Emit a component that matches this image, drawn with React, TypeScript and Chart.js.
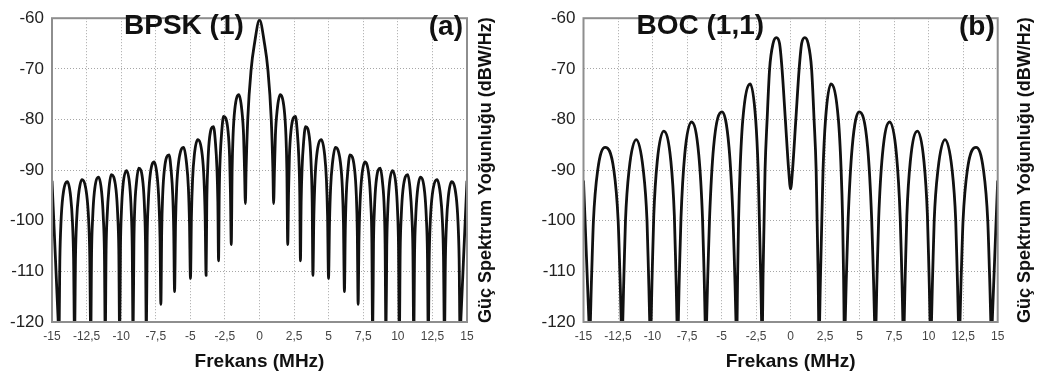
import React, { useEffect, useRef } from 'react';
import { Chart, registerables } from 'chart.js';

Chart.register(...registerables);

const FONT = '"Liberation Sans", Arial, Helvetica, sans-serif';

// Axis ticks
const xTickValues = [-15, -12.5, -10, -7.5, -5, -2.5, 0, 2.5, 5, 7.5, 10, 12.5, 15];
const xTickLabels = ['-15', '-12,5', '-10', '-7,5', '-5', '-2,5', '0', '2,5', '5', '7,5', '10', '12,5', '15'];
const yTickValues = [-120, -110, -100, -90, -80, -70, -60];
const yTickLabels = ['-120', '-110', '-100', '-90', '-80', '-70', '-60'];

const xAxisTitle = 'Frekans (MHz)';
const yAxisTitle = 'Güç Spektrum Yoğunluğu (dBW/Hz)';

// (a) BPSK(1): frequency (MHz) / PSD (dBW/Hz) (one row per lobe: shoulders, peak, null)
const bpskFreq = [
  -15, -14.75, -14.56,
  -14.5, -14.43, -14.35, -14.22, -13.88, -13.65, -13.52, -13.44,
  -13.37, -13.3, -13.22, -13.08, -12.84, -12.49, -12.35, -12.27,
  -12.2, -12.14, -12.06, -11.94, -11.63, -11.41, -11.29, -11.21,
  -11.15, -11.09, -11.01, -10.89, -10.72, -10.37, -10.25, -10.17,
  -10.11, -10.05, -9.98, -9.87, -9.61, -9.38, -9.27, -9.2,
  -9.14, -9.08, -9.02, -8.9, -8.73, -8.42, -8.31, -8.24,
  -8.18, -8.12, -8.04, -7.92, -7.62, -7.39, -7.27, -7.19,
  -7.13, -7.07, -7, -6.88, -6.54, -6.39, -6.27, -6.2,
  -6.14, -6.07, -5.99, -5.85, -5.48, -5.28, -5.14, -5.06,
  -4.99, -4.92, -4.84, -4.71, -4.47, -4.14, -4.01, -3.93,
  -3.86, -3.81, -3.74, -3.64, -3.33, -3.19, -3.08, -3.01,
  -2.96, -2.91, -2.84, -2.73, -2.6, -2.27, -2.16, -2.1,
  -2.04, -1.98, -1.91, -1.79, -1.49, -1.28, -1.15, -1.08,
  -1.02, -0.97, -0.85, -0.6, -0.36,
  0,
  0.36, 0.6, 0.85, 0.97, 1.02,
  1.08, 1.15, 1.28, 1.49, 1.79, 1.91, 1.98, 2.04,
  2.1, 2.16, 2.27, 2.6, 2.73, 2.84, 2.91, 2.96,
  3.01, 3.08, 3.19, 3.33, 3.64, 3.74, 3.81, 3.86,
  3.93, 4.01, 4.14, 4.47, 4.71, 4.84, 4.92, 4.99,
  5.06, 5.14, 5.28, 5.48, 5.85, 5.99, 6.07, 6.14,
  6.2, 6.27, 6.39, 6.54, 6.88, 7, 7.07, 7.13,
  7.19, 7.27, 7.39, 7.62, 7.92, 8.04, 8.12, 8.18,
  8.24, 8.31, 8.42, 8.73, 8.9, 9.02, 9.08, 9.14,
  9.2, 9.27, 9.38, 9.61, 9.87, 9.98, 10.05, 10.11,
  10.17, 10.25, 10.37, 10.72, 10.89, 11.01, 11.09, 11.15,
  11.21, 11.29, 11.41, 11.63, 11.94, 12.06, 12.14, 12.2,
  12.27, 12.35, 12.49, 12.84, 13.08, 13.22, 13.3, 13.37,
  13.44, 13.52, 13.65, 13.88, 14.22, 14.35, 14.43, 14.5,
  14.56, 14.75, 15,
];
const bpskPower = [
  -92.1, -107.5, -119.3,
  -123, -107.3, -100.3, -95.3, -92.3, -95.3, -100.3, -107.3,
  -123, -106.9, -99.9, -94.9, -91.9, -94.9, -99.9, -106.9,
  -123, -106.4, -99.4, -94.4, -91.4, -94.4, -99.4, -106.4,
  -123, -105.9, -98.9, -93.9, -90.9, -93.9, -98.9, -105.9,
  -123, -105.1, -98.1, -93.1, -90.1, -93.1, -98.1, -105.1,
  -123, -104.6, -97.6, -92.6, -89.6, -92.6, -97.6, -104.6,
  -123, -103.4, -96.4, -91.4, -88.4, -91.4, -96.4, -103.4,
  -116.5, -102, -95, -90, -87, -90, -95, -102,
  -114, -100.5, -93.5, -88.5, -85.5, -88.5, -93.5, -100.5,
  -111.4, -99, -92, -87, -84, -87, -92, -99,
  -110.8, -96.4, -89.4, -84.4, -81.4, -84.4, -89.4, -96.4,
  -107.9, -94.4, -87.4, -82.4, -79.4, -82.4, -87.4, -94.4,
  -104.7, -90.1, -83.1, -78.1, -75.1, -78.1, -83.1, -90.1,
  -96.6, -90, -80, -70, -65,
  -60.35,
  -65, -70, -80, -90, -96.6,
  -90.1, -83.1, -78.1, -75.1, -78.1, -83.1, -90.1, -104.7,
  -94.4, -87.4, -82.4, -79.4, -82.4, -87.4, -94.4, -107.9,
  -96.4, -89.4, -84.4, -81.4, -84.4, -89.4, -96.4, -110.8,
  -99, -92, -87, -84, -87, -92, -99, -111.4,
  -100.5, -93.5, -88.5, -85.5, -88.5, -93.5, -100.5, -114,
  -102, -95, -90, -87, -90, -95, -102, -116.5,
  -103.4, -96.4, -91.4, -88.4, -91.4, -96.4, -103.4, -123,
  -104.6, -97.6, -92.6, -89.6, -92.6, -97.6, -104.6, -123,
  -105.1, -98.1, -93.1, -90.1, -93.1, -98.1, -105.1, -123,
  -105.9, -98.9, -93.9, -90.9, -93.9, -98.9, -105.9, -123,
  -106.4, -99.4, -94.4, -91.4, -94.4, -99.4, -106.4, -123,
  -106.9, -99.9, -94.9, -91.9, -94.9, -99.9, -106.9, -123,
  -107.3, -100.3, -95.3, -92.3, -95.3, -100.3, -107.3, -123,
  -119.3, -107.5, -92.1,
];

// (b) BOC(1,1): frequency (MHz) / PSD (dBW/Hz)
const bocFreq = [
  -15, -14.78, -14.62,
  -14.56, -14.42, -14.28, -13.97, -13.43, -12.8, -12.49, -12.35,
  -12.21, -12.08, -11.96, -11.7, -11.18, -10.67, -10.4, -10.28,
  -10.15, -10.03, -9.91, -9.66, -9.19, -8.67, -8.42, -8.3,
  -8.18, -8.06, -7.94, -7.67, -7.18, -6.65, -6.38, -6.26,
  -6.14, -6, -5.87, -5.58, -4.97, -4.46, -4.17, -4.04,
  -3.9, -3.84, -3.77, -3.66, -3.46, -2.92, -2.53, -2.35, -2.26, -2.16,
  -2.06, -1.99, -1.92, -1.85, -1.7, -1.52, -1.27, -1.03, -0.8, -0.62, -0.38, -0.14,
  0,
  0.14, 0.38, 0.62, 0.8, 1.03, 1.27, 1.52, 1.7, 1.85, 1.92, 1.99, 2.06,
  2.16, 2.26, 2.35, 2.53, 2.92, 3.46, 3.66, 3.77, 3.84, 3.9,
  4.04, 4.17, 4.46, 4.97, 5.58, 5.87, 6, 6.14,
  6.26, 6.38, 6.65, 7.18, 7.67, 7.94, 8.06, 8.18,
  8.3, 8.42, 8.67, 9.19, 9.66, 9.91, 10.03, 10.15,
  10.28, 10.4, 10.67, 11.18, 11.7, 11.96, 12.08, 12.21,
  12.35, 12.49, 12.8, 13.43, 13.97, 14.28, 14.42, 14.56,
  14.62, 14.78, 15,
];
const bocPower = [
  -92.05, -107.5, -118.8,
  -123, -111.5, -100, -90, -85.5, -90, -100, -111.5,
  -123, -111.5, -100, -90, -84, -90, -100, -111.5,
  -123, -111, -99, -88.3, -82.3, -88.3, -99, -111,
  -123, -111, -99.5, -87, -80.5, -87, -99.5, -111,
  -123, -111, -99.5, -85.5, -78.5, -85.5, -99.5, -111,
  -123, -111.5, -100, -90, -80, -73, -80, -90, -100, -111.5,
  -123, -110, -100, -90, -80, -70, -65, -63.85, -65, -70, -80, -90,
  -93.7,
  -90, -80, -70, -65, -63.85, -65, -70, -80, -90, -100, -110, -123,
  -111.5, -100, -90, -80, -73, -80, -90, -100, -111.5, -123,
  -111, -99.5, -85.5, -78.5, -85.5, -99.5, -111, -123,
  -111, -99.5, -87, -80.5, -87, -99.5, -111, -123,
  -111, -99, -88.3, -82.3, -88.3, -99, -111, -123,
  -111.5, -100, -90, -84, -90, -100, -111.5, -123,
  -111.5, -100, -90, -85.5, -90, -100, -111.5, -123,
  -118.8, -107.5, -92.05,
];

type PanelProps = {
  freq: number[];
  power: number[];
  title: string;
  tag: string;
  left: number;
  padLeft: number;
  padRight: number;
  titleDx: number;
  tagDx: number;
  yTitleDx: number;
};

function Panel(p: PanelProps) {
  const ref = useRef<HTMLCanvasElement>(null);
  useEffect(() => {
    const canvas = ref.current;
    if (!canvas) return;
    const overlay = {
      id: 'overlay',
      afterDraw(chart: any) {
        const { ctx, chartArea } = chart;
        const { left, right, top, bottom } = chartArea;
        ctx.save();
        ctx.setLineDash([]);
        ctx.strokeStyle = '#8e8e8e';
        ctx.lineWidth = 2;
        ctx.strokeRect(left, top, right - left, bottom - top);
        ctx.fillStyle = '#111';
        ctx.font = `bold 28px ${FONT}`;
        ctx.textBaseline = 'alphabetic';
        ctx.textAlign = 'left';
        ctx.fillText(p.title, left + p.titleDx, 34);
        ctx.textAlign = 'right';
        ctx.fillText(p.tag, right - p.tagDx, 35);
        ctx.translate(right + p.yTitleDx, (top + bottom) / 2);
        ctx.rotate(-Math.PI / 2);
        ctx.font = `bold 18px ${FONT}`;
        ctx.textAlign = 'center';
        ctx.textBaseline = 'middle';
        ctx.fillText(yAxisTitle, 0, 0);
        ctx.restore();
      },
    };
    const chart = new Chart(canvas, {
      type: 'line',
      data: {
        datasets: [
          {
            data: p.freq.map((x, i) => ({ x, y: p.power[i] })),
            borderColor: '#111',
            borderWidth: 2.8,
            pointRadius: 0,
            cubicInterpolationMode: 'monotone',
            fill: false,
            borderJoinStyle: 'round',
          } as any,
        ],
      },
      options: {
        animation: false,
        responsive: false,
        maintainAspectRatio: false,
        events: [],
        layout: { padding: { left: p.padLeft, right: p.padRight, top: 10, bottom: 0 } },
        plugins: { legend: { display: false }, tooltip: { enabled: false }, title: { display: false } },
        scales: {
          x: {
            type: 'linear',
            min: -15,
            max: 15,
            afterBuildTicks: (s: any) => {
              s.ticks = xTickValues.map((v) => ({ value: v }));
            },
            afterFit: (s: any) => {
              s.height = 56;
            },
            ticks: {
              autoSkip: false,
              maxRotation: 0,
              minRotation: 0,
              padding: 7,
              color: '#444',
              font: { family: FONT, size: 12 },
              callback: (v: any) => xTickLabels[xTickValues.indexOf(Number(v))] ?? '',
            },
            grid: { color: '#a6a6a6', lineWidth: 1, drawTicks: false },
            border: { display: false, dash: [1, 2] },
            title: {
              display: true,
              text: xAxisTitle,
              color: '#111',
              font: { family: FONT, size: 19, weight: 'bold' },
              padding: { top: 0, bottom: 5 },
            },
          },
          y: {
            type: 'linear',
            min: -120,
            max: -60,
            afterBuildTicks: (s: any) => {
              s.ticks = yTickValues.map((v) => ({ value: v }));
            },
            afterFit: (s: any) => {
              s.width = 52;
            },
            ticks: {
              padding: 8,
              color: '#222',
              font: { family: FONT, size: 17 },
              callback: (v: any) => yTickLabels[yTickValues.indexOf(Number(v))] ?? '',
            },
            grid: { color: '#a6a6a6', lineWidth: 1, drawTicks: false },
            border: { display: false, dash: [1, 2] },
          },
        },
      } as any,
      plugins: [overlay],
    });
    return () => chart.destroy();
  }, []);
  return (
    <canvas
      ref={ref}
      width={520}
      height={378}
      style={{ position: 'absolute', left: p.left, top: 0, width: 520, height: 378 }}
    />
  );
}

export default function App() {
  return (
    <div style={{ position: 'absolute', left: 0, top: 0, width: 1040, height: 378, background: '#fff', overflow: 'hidden' }}>
      <Panel
        freq={bpskFreq}
        power={bpskPower}
        title="BPSK (1)"
        tag="(a)"
        left={0}
        padLeft={0}
        padRight={53}
        titleDx={72}
        tagDx={4}
        yTitleDx={19}
      />
      <Panel
        freq={bocFreq}
        power={bocPower}
        title="BOC (1,1)"
        tag="(b)"
        left={520}
        padLeft={11.5}
        padRight={42.3}
        titleDx={53}
        tagDx={3}
        yTitleDx={27}
      />
    </div>
  );
}
